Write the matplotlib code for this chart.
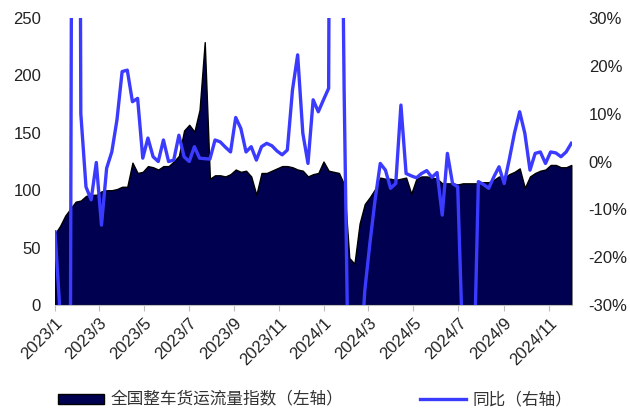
import matplotlib
matplotlib.use("Agg")
import matplotlib.pyplot as plt
import matplotlib.dates as mdates
from matplotlib.ticker import FuncFormatter, MultipleLocator
import pandas as pd

plt.rcParams["font.family"] = ["Liberation Sans", "Noto Sans CJK SC", "DejaVu Sans"]

# weekly series, first week of 2023 through end of 2024/11
weeks = pd.date_range("2023-01-01", periods=101, freq="7D")

flow_index = [
    62, 69, 78, 84, 90, 91, 95, 96, 96, 99,
    100, 100, 101, 103, 103, 124, 115, 116, 121, 120,
    118, 121, 121, 125, 130, 152, 157, 151, 170, 229,
    110, 113, 113, 112, 114, 118, 116, 117, 112, 96,
    115, 115, 117, 119, 121, 121, 120, 118, 117, 112,
    114, 115, 125, 117, 116, 115, 105, 41, 36, 71,
    88, 94, 101, 111, 110, 110, 109, 110, 111, 97,
    110, 112, 112, 111, 110, 106, 106, 106, 105, 106,
    106, 106, 106, 107, 107, 109, 112, 111, 114, 116,
    119, 102, 112, 115, 117, 118, 122, 122, 120, 120,
    122,
]

yoy_pct = [
    -14.7, -32, -45, -33, 350, 10, -5.3, -8, -0.2, -13.3,
    -1.4, 2, 8.7, 18.8, 19.1, 12.5, 13.2, 0.7, 4.9, 1,
    0, 4.5, 0, 0.3, 5.5, 1, 0, 3.1, 0.7, 0.6,
    0.5, 4.5, 4.1, 3.0, 2.0, 9.2, 6.9, 2.0, 3.1, 0.3,
    3.1, 3.8, 3.3, 2.2, 1.4, 2.4, 15, 22.3, 5.9, -0.4,
    12.9, 10.4, 12.9, 15.3, 300, 120, 15, -60, -65, -45,
    -27, -17, -8, -0.4, -1.8, -5.6, -4.6, 11.8, -2.5, -3.0,
    -3.4, -2.5, -1.9, -3.3, -2.3, -11.2, 1.7, -4.6, -5.3, -40,
    -55, -50, -4.2, -4.8, -5.6, -3.2, -1.1, -4.6, 0.5, 6,
    10.4, 5.9, -1.8, 1.7, 2, -0.4, 2, 1.8, 1, 2,
    3.8,
]

tick_dates = pd.date_range("2023-01-01", "2024-11-01", freq="2MS")

NAVY = "#000050"
BLUE = "#3b3bff"
TXT = "#222222"

fig = plt.figure(figsize=(6.3, 4.15), dpi=100)
ax = fig.add_axes([0.0873, 0.265, 0.8207, 0.6916])

ax.fill_between(weeks, flow_index, 0, facecolor=NAVY, edgecolor="black",
                linewidth=1.0, label="全国整车货运流量指数（左轴）")
ax.set_ylim(0, 250)
ax.yaxis.set_major_locator(MultipleLocator(50))
ax.set_xlim(weeks[0], weeks[-1] + pd.Timedelta(days=1))
ax.set_xticks(tick_dates)
ax.xaxis.set_major_formatter(FuncFormatter(
    lambda v, _: f"{mdates.num2date(v).year}/{mdates.num2date(v).month}"))

for s in ("top", "left", "right"):
    ax.spines[s].set_visible(False)
ax.spines["bottom"].set_color("#bfbfbf")
ax.tick_params(axis="x", length=4, color="#bfbfbf", labelsize=12, labelcolor=TXT)
ax.tick_params(axis="y", length=0, labelsize=12, labelcolor=TXT, pad=10)
for lab in ax.get_xticklabels():
    lab.set_rotation(45)
    lab.set_ha("right")
    lab.set_rotation_mode("anchor")

ax2 = ax.twinx()
ax2.plot(weeks, yoy_pct, color=BLUE, lw=2.4, label="同比（右轴）")
ax2.set_ylim(-30, 30)
ax2.yaxis.set_major_locator(MultipleLocator(10))
ax2.yaxis.set_major_formatter(FuncFormatter(lambda v, _: f"{v:.0f}%"))
ax2.tick_params(axis="y", length=0, labelsize=12, labelcolor=TXT, pad=12)
for s in ax2.spines.values():
    s.set_visible(False)

h1, l1 = ax.get_legend_handles_labels()
h2, l2 = ax2.get_legend_handles_labels()
leg = fig.legend(h1 + h2, l1 + l2, loc="center", bbox_to_anchor=(0.5, 0.036), ncol=2,
                 frameon=False, handlelength=2.75, handleheight=0.55,
                 columnspacing=4.6, handletextpad=0.4,
                 prop={"family": ["Noto Sans CJK SC", "DejaVu Sans"], "size": 12})
for t in leg.get_texts():
    t.set_color("#333333")

fig.savefig("out.png", dpi=100)
